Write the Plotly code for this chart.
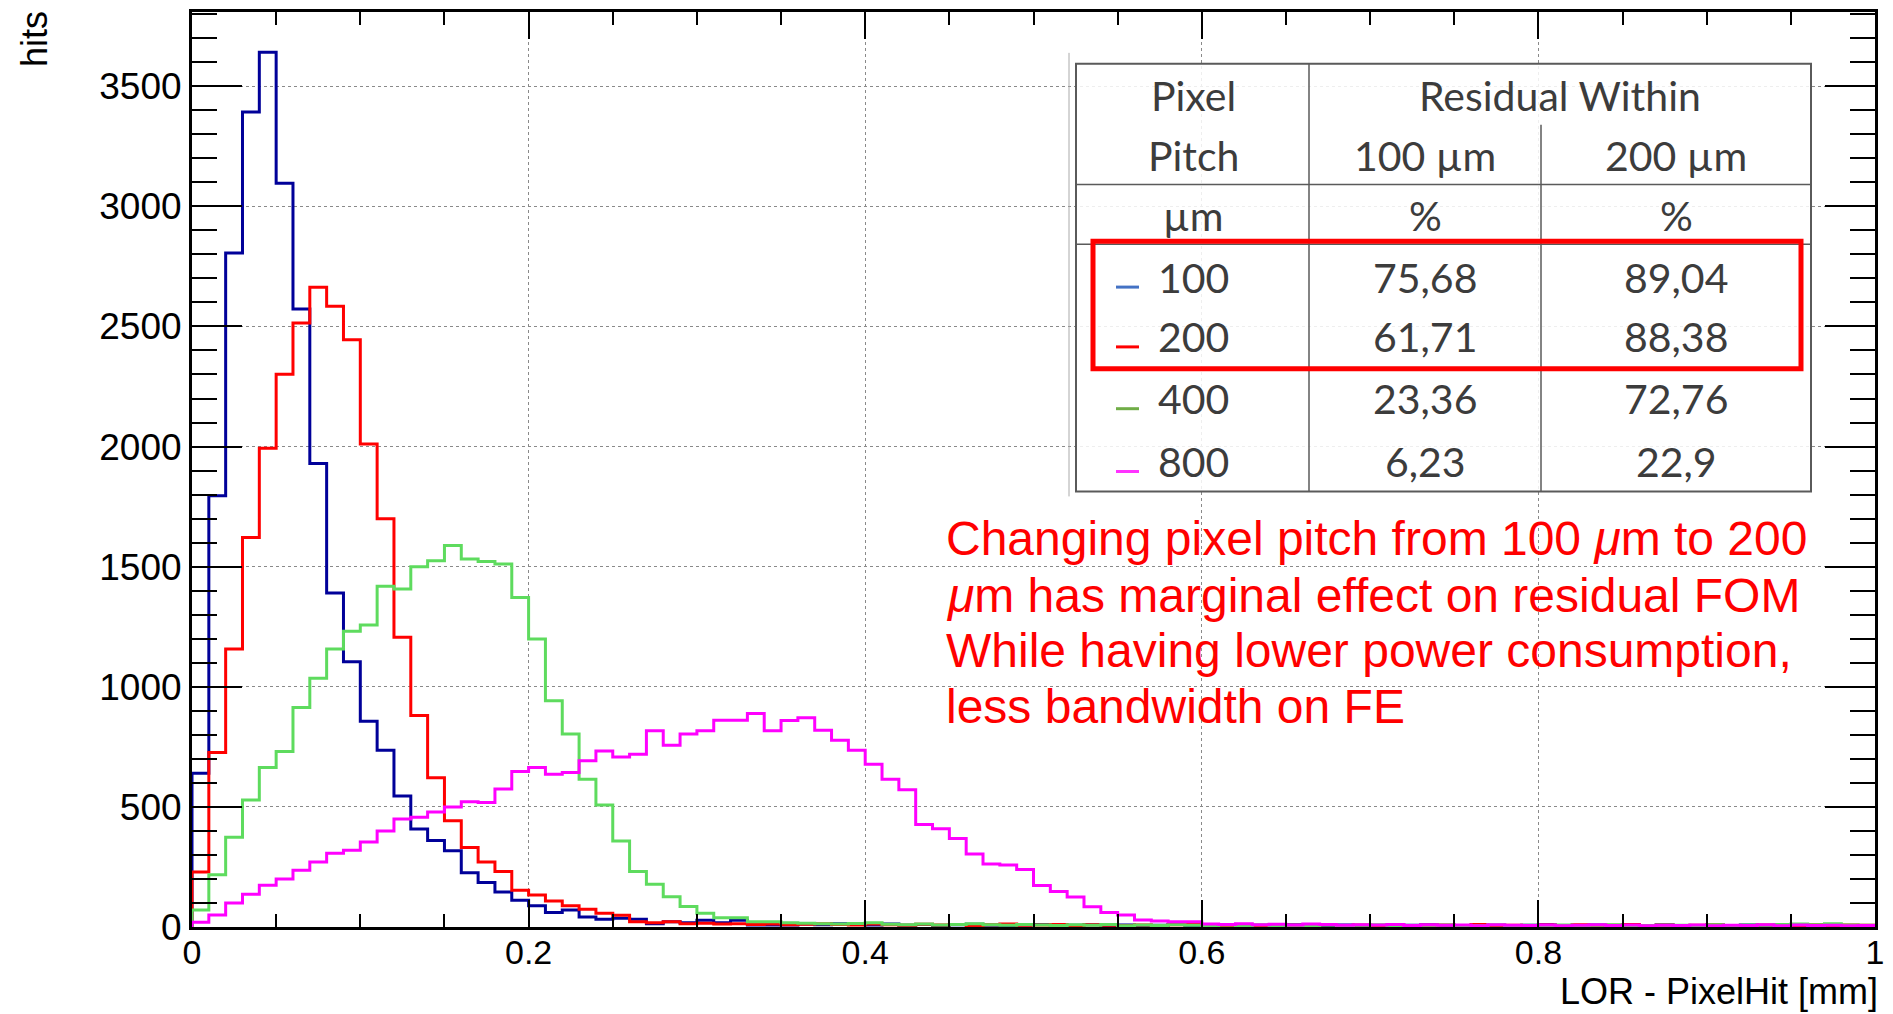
import plotly.graph_objects as go

# ---------------- data ----------------
bin_width = 0.01
bin_edges = [round(i * bin_width, 2) for i in range(100)]

pitch_100 = [640, 1795, 2806, 3393, 3641, 3096, 2573, 1929, 1390, 1104,
             857, 736, 545, 408, 360, 317, 226, 185, 146, 111,
             88, 60, 71, 42, 32, 36, 32, 14, 22, 18,
             28, 18, 28, 8, 8, 8, 12, 9, 14, 10,
             8, 12, 7, 10, 6, 9, 11, 7, 6, 8,
             10, 5, 7, 9, 6, 8, 5, 7, 10, 6,
             5, 8, 6, 4, 7, 9, 5, 6, 8, 4,
             6, 5, 7, 9, 6, 4, 8, 6, 5, 7,
             9, 6, 4, 8, 5, 7, 6, 9, 5, 4,
             7, 6, 8, 5, 6, 9, 4, 7, 6, 5]

pitch_200 = [229, 726, 1157, 1621, 1993, 2301, 2514, 2663, 2584, 2445,
             2011, 1700, 1206, 880, 621, 442, 331, 271, 231, 153,
             133, 108, 88, 74, 57, 49, 22, 18, 22, 14,
             16, 12, 14, 10, 13, 9, 11, 14, 10, 8,
             12, 9, 7, 11, 8, 10, 6, 9, 12, 7,
             8, 10, 6, 9, 7, 5, 8, 6, 9, 11,
             7, 5, 8, 6, 10, 7, 5, 9, 6, 8,
             6, 9, 5, 7, 8, 6, 10, 5, 7, 6,
             8, 5, 9, 6, 7, 10, 5, 8, 6, 7,
             9, 6, 5, 8, 7, 6, 9, 5, 8, 7]

pitch_400 = [71, 217, 374, 529, 664, 731, 914, 1036, 1157, 1231,
             1257, 1419, 1407, 1500, 1525, 1588, 1532, 1522, 1511, 1372,
             1199, 942, 803, 615, 508, 358, 231, 178, 126, 85,
             57, 39, 39, 22, 22, 18, 16, 14, 12, 15,
             18, 11, 9, 12, 8, 10, 14, 9, 7, 10,
             8, 6, 9, 7, 10, 5, 8, 6, 9, 7,
             5, 8, 6, 9, 5, 7, 6, 8, 5, 7,
             9, 6, 5, 7, 8, 6, 5, 9, 6, 7,
             5, 8, 6, 7, 9, 5, 6, 8, 7, 5,
             9, 6, 8, 7, 10, 12, 9, 14, 8, 7]

pitch_800 = [20, 50, 100, 136, 174, 200, 236, 271, 307, 319,
             354, 400, 450, 457, 479, 500, 521, 518, 574, 647,
             664, 636, 643, 692, 733, 708, 719, 817, 757, 803,
             817, 861, 861, 889, 817, 860, 871, 819, 777, 736,
             677, 615, 571, 427, 409, 368, 304, 262, 258, 239,
             173, 148, 125, 84, 60, 50, 29, 25, 22, 22,
             12, 10, 14, 9, 11, 8, 12, 10, 7, 9,
             8, 10, 6, 9, 7, 8, 5, 9, 7, 6,
             8, 5, 7, 9, 6, 8, 5, 7, 6, 8,
             5, 7, 6, 9, 5, 8, 6, 7, 5, 6]

series_names = ["100", "200", "400", "800"]
series_values = [pitch_100, pitch_200, pitch_400, pitch_800]
series_colors = ["#000099", "#FF0000", "#5EDB5E", "#FF00FF"]

x_tick_vals = [0, 0.2, 0.4, 0.6, 0.8, 1.0]
x_tick_text = ["0", "0.2", "0.4", "0.6", "0.8", "1"]

table_header_1 = ["Pixel", "Residual Within"]
table_header_2 = ["Pitch", "100 µm", "200 µm"]
table_header_3 = ["µm", "%", "%"]
table_pitch = ["100", "200", "400", "800"]
table_res_100 = ["75,68", "61,71", "23,36", "6,23"]
table_res_200 = ["89,04", "88,38", "72,76", "22,9"]
table_mark_colors = ["#4472C4", "#FF0000", "#70AD47", "#FF33FF"]

note_lines = ["Changing pixel pitch from 100 <i>μ</i>m to 200",
              "<i>μ</i>m has marginal effect on residual FOM",
              "While having lower power consumption,",
              "less bandwidth on FE"]

# ---------------- layout geometry ----------------
W, H = 1893, 1014
L, R, T, B = 192, 18, 9, 87
PW, PH = W - L - R, H - T - B
ARIAL = "Liberation Sans, Arial, Helvetica, sans-serif"


def px(xp):
    return (xp - L) / PW


def py(yp):
    return (H - B - yp) / PH


fig = go.Figure()
for name, vals, col in zip(series_names, series_values, series_colors):
    xs = [bin_edges[0]] + bin_edges + [bin_edges[-1] + bin_width]
    ys = [0] + vals + [vals[-1]]
    fig.add_trace(go.Scatter(x=xs, y=ys, mode="lines", line_shape="hv",
                             line=dict(color=col, width=3), name=name,
                             showlegend=False))

shapes = []
annotations = []

# table background and lines
tcol = "#5a5a5a"
shapes.append(dict(type="line", xref="paper", yref="paper", x0=px(1069), x1=px(1069),
                   y0=py(50), y1=py(495), line=dict(color="#aaaaaa", width=1)))
shapes.append(dict(type="rect", xref="paper", yref="paper", x0=px(1076), x1=px(1811),
                   y0=py(61), y1=py(490), fillcolor="rgba(255,255,255,0.85)",
                   line=dict(color=tcol, width=2), layer="above"))
for yy in (182, 242):
    shapes.append(dict(type="line", xref="paper", yref="paper", x0=px(1076), x1=px(1811),
                       y0=py(yy), y1=py(yy), line=dict(color=tcol, width=1.5)))
shapes.append(dict(type="line", xref="paper", yref="paper", x0=px(1309), x1=px(1309),
                   y0=py(61), y1=py(490), line=dict(color=tcol, width=1.5)))
shapes.append(dict(type="line", xref="paper", yref="paper", x0=px(1541), x1=px(1541),
                   y0=py(122), y1=py(490), line=dict(color=tcol, width=1.5)))
shapes.append(dict(type="rect", xref="paper", yref="paper", x0=px(1093), x1=px(1801),
                   y0=py(239), y1=py(367), line=dict(color="#FF0000", width=5)))

tfont = dict(family="Lato, Noto Sans, sans-serif", size=41, color="#3c3c3c")
col_x = [1193, 1425, 1676]
row_y = [93, 153, 213, 275, 335, 397, 460]


def tt(text, xp, yp):
    annotations.append(dict(text=text, xref="paper", yref="paper", x=px(xp), y=py(yp),
                            xanchor="center", yanchor="middle", showarrow=False, font=tfont))


tt(table_header_1[0], col_x[0], row_y[0])
tt(table_header_1[1], 1560, row_y[0])
for c, txt in enumerate(table_header_2):
    tt(txt, col_x[c], row_y[1])
for c, txt in enumerate(table_header_3):
    tt(txt, col_x[c], row_y[2])
for i in range(4):
    yy = row_y[3 + i]
    tt(table_pitch[i], col_x[0], yy)
    tt(table_res_100[i], col_x[1], yy)
    tt(table_res_200[i], col_x[2], yy)
    shapes.append(dict(type="line", xref="paper", yref="paper", x0=px(1116), x1=px(1139),
                       y0=py(yy + 10), y1=py(yy + 10),
                       line=dict(color=table_mark_colors[i], width=3)))

# red note
note_y = [537, 594, 650, 706]
for line, yy in zip(note_lines, note_y):
    annotations.append(dict(text=line, xref="paper", yref="paper", x=px(944), y=py(yy),
                            xanchor="left", yanchor="middle", showarrow=False,
                            font=dict(family=ARIAL, size=48, color="#FF0000")))

# axis titles
annotations.append(dict(text="hits", xref="paper", yref="paper", x=px(34), y=py(6),
                        xanchor="center", yanchor="top", textangle=-90, showarrow=False,
                        font=dict(family=ARIAL, size=36, color="black")))
annotations.append(dict(text="LOR - PixelHit [mm]", xref="paper", yref="paper",
                        x=px(1880), y=py(992), xanchor="right", yanchor="middle",
                        showarrow=False,
                        font=dict(family=ARIAL, size=36, color="black")))

fig.update_layout(
    width=W, height=H,
    margin=dict(l=L, r=R, t=T, b=B),
    paper_bgcolor="white", plot_bgcolor="white",
    shapes=shapes, annotations=annotations,
    showlegend=False,
    xaxis=dict(range=[0, 1], tickvals=x_tick_vals, ticktext=x_tick_text,
               ticks="inside", ticklen=27, tickwidth=1.5, tickcolor="black",
               showgrid=True, gridcolor="#8a8a8a", griddash="dot", gridwidth=1,
               showline=True, linecolor="black", linewidth=3, mirror="allticks",
               zeroline=False, ticklabelstandoff=-7,
               tickfont=dict(family=ARIAL, size=34, color="black"),
               minor=dict(dtick=0.05, tick0=0, ticks="inside", ticklen=13,
                          tickcolor="black", tickwidth=1.5, showgrid=False)),
    yaxis=dict(range=[0, 3809], tick0=0, dtick=500,
               ticks="inside", ticklen=50, tickwidth=1.5, tickcolor="black",
               showgrid=True, gridcolor="#8a8a8a", griddash="dot", gridwidth=1,
               showline=True, linecolor="black", linewidth=3, mirror="allticks",
               zeroline=False,
               tickfont=dict(family=ARIAL, size=37, color="black"),
               minor=dict(dtick=100, ticks="inside", ticklen=25, tickcolor="black",
                          tickwidth=1.5, showgrid=False)),
)

fig.write_html("out.html")
